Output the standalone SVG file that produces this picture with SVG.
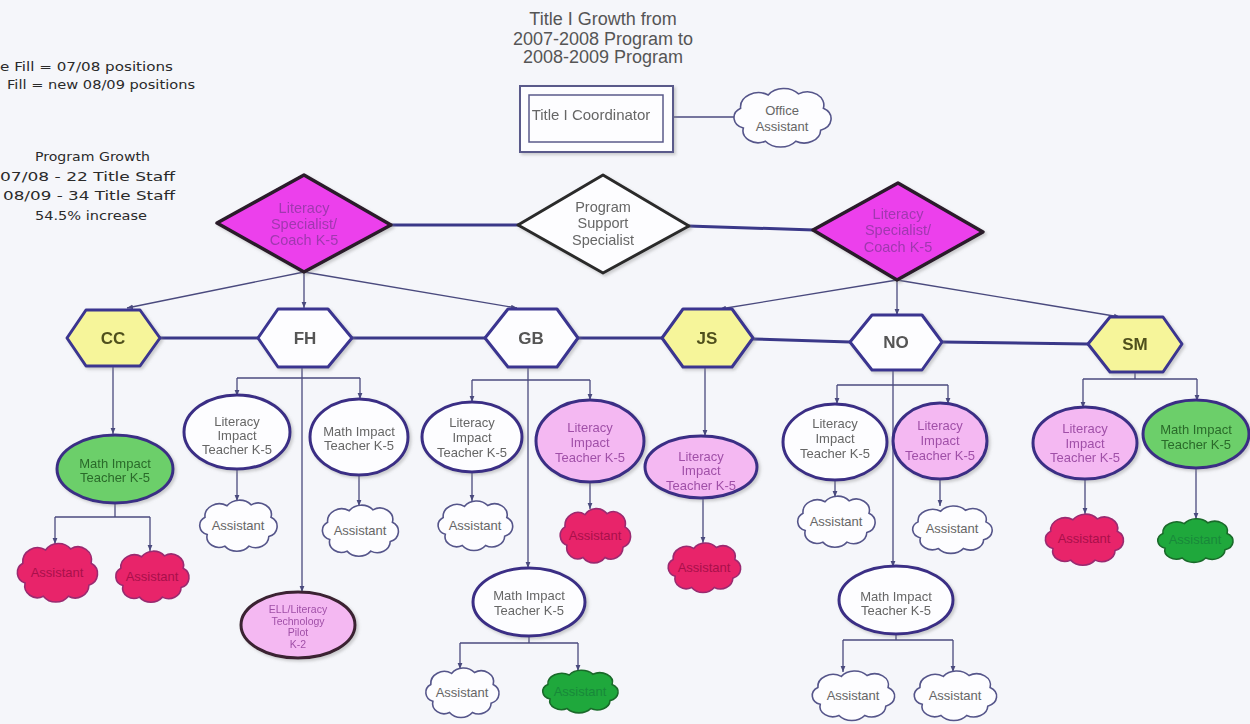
<svg xmlns="http://www.w3.org/2000/svg" xmlns:xlink="http://www.w3.org/1999/xlink" width="1250" height="724" viewBox="0 0 1250 724">
<style>
.t{font-family:"Liberation Sans",Arial,sans-serif;font-size:13px;text-anchor:middle;fill:#666}
.dt{font-size:14.5px}
.leg{font-family:"DejaVu Sans","Liberation Sans",sans-serif;font-size:12.5px;fill:#2a2a2a}
.legc{font-family:"DejaVu Sans","Liberation Sans",sans-serif;font-size:12.5px;fill:#2a2a2a;text-anchor:middle}
.title{font-family:"Liberation Sans",Arial,sans-serif;font-size:18px;text-anchor:middle;fill:#555}
.hex{stroke:#3a3490;stroke-width:3;stroke-linejoin:round}
.hy{fill:#f6f59a}
.hw{fill:#fdfdff}
.ht{font-family:"Liberation Sans",Arial,sans-serif;font-size:17px;font-weight:bold;text-anchor:middle}
.el{stroke:#3a2f85;stroke-width:3}
.ew{fill:#fdfdff}
.ep{fill:#f4b8f2}
.eg{fill:#6ccf6a}
.cw{fill:#fdfdff;stroke:#55558a}
.cr{fill:#e8246a;stroke:#9a2a70}
.cg{fill:#1fa83c;stroke:#1a6a2a}
.dm{fill:#ec40ec;stroke:#2a1a2a;stroke-width:3.5;stroke-linejoin:round}
.dw{fill:#fdfdff;stroke:#2a2a2a;stroke-width:3;stroke-linejoin:round}
.arr{fill:none;stroke:#4a4a7e;stroke-width:1.3;marker-end:url(#ah)}
.ln{fill:none;stroke:#4a4a7e;stroke-width:1.3}
.thick{fill:none;stroke:#3a3888;stroke-width:3}
.pk{fill:#a050a8}
.mg{fill:#a038b0}
.gr{fill:#2a6a2a}
.rd{fill:#a8104a}
.gd{fill:#18883a}
</style>
<defs>
<marker id="ah" viewBox="0 0 10 10" refX="10" refY="5" markerWidth="6" markerHeight="8" orient="auto" markerUnits="userSpaceOnUse">
<path d="M0,1 L10,5 L0,9 Z" fill="#4a4a7e"/>
</marker>
<path id="cloud" vector-effect="non-scaling-stroke" stroke-width="1.6" d="M -28,10 A 10,10 0 0 1 -30,-8 A 13,13 0 0 1 -10,-20 A 14,14 0 0 1 12,-21 A 12,12 0 0 1 30,-8 A 11,11 0 0 1 28,12 A 12,12 0 0 1 10,22 A 14,14 0 0 1 -12,22 A 11,11 0 0 1 -28,10 Z"/>
<filter id="sh" x="-10%" y="-10%" width="130%" height="130%">
<feDropShadow dx="2" dy="2" stdDeviation="1.5" flood-color="#888" flood-opacity="0.4"/>
</filter>
</defs>
<rect x="0" y="0" width="1250" height="724" fill="#f5f6fa"/>

<g id="legend">
<text class="leg" x="0" y="71" textLength="173" lengthAdjust="spacingAndGlyphs">e Fill = 07/08 positions</text>
<text class="leg" x="7" y="89" textLength="188" lengthAdjust="spacingAndGlyphs">Fill = new 08/09 positions</text>
<text class="leg" x="35" y="161" textLength="115" lengthAdjust="spacingAndGlyphs">Program Growth</text>
<text class="leg" x="0" y="181" textLength="175" lengthAdjust="spacingAndGlyphs">07/08 - 22 Title Staff</text>
<text class="leg" x="3" y="200" textLength="172" lengthAdjust="spacingAndGlyphs">08/09 - 34 Title Staff</text>
<text class="leg" x="35" y="220" textLength="112" lengthAdjust="spacingAndGlyphs">54.5% increase</text>
</g>

<g id="title">
<text class="title" x="603" y="25">Title I Growth from</text>
<text class="title" x="603" y="45">2007-2008 Program to</text>
<text class="title" x="603" y="63">2008-2009 Program</text>
</g>

<g id="connectors">
<line class="ln" x1="673" y1="117" x2="736" y2="117" stroke-width="1.6"/>
<line class="thick" x1="390" y1="225" x2="519" y2="225" stroke-width="4" stroke="#2a2a70"/>
<line class="thick" x1="688" y1="226" x2="814" y2="230" stroke-width="2.5" stroke="#2a2a70"/>
<line class="thick" x1="160" y1="338" x2="258" y2="338"/>
<line class="thick" x1="352" y1="338" x2="485" y2="338"/>
<line class="thick" x1="578" y1="338" x2="662" y2="338"/>
<line class="thick" x1="753" y1="339" x2="850" y2="342"/>
<line class="thick" x1="942" y1="342" x2="1088" y2="344"/>
<line class="arr" x1="304" y1="272" x2="127" y2="308"/>
<line class="arr" x1="304" y1="272" x2="304" y2="308"/>
<line class="arr" x1="304" y1="272" x2="517" y2="308"/>
<line class="arr" x1="897" y1="280" x2="720" y2="309"/>
<line class="arr" x1="897" y1="280" x2="897" y2="315"/>
<line class="arr" x1="897" y1="280" x2="1120" y2="317"/>
<line class="arr" x1="113" y1="366" x2="113" y2="434"/>
<polyline class="ln" points="115,503 115,517"/>
<polyline class="ln" points="55,517 150,517"/>
<line class="arr" x1="55" y1="517" x2="55" y2="544"/>
<line class="arr" x1="150" y1="517" x2="150" y2="551"/>
<line class="arr" x1="302" y1="367" x2="302" y2="592"/>
<polyline class="ln" points="237,378 360,378"/>
<line class="arr" x1="237" y1="378" x2="237" y2="396"/>
<line class="arr" x1="360" y1="378" x2="360" y2="399"/>
<line class="arr" x1="237" y1="469" x2="237" y2="501"/>
<line class="arr" x1="359" y1="475" x2="359" y2="506"/>
<line class="arr" x1="528" y1="367" x2="528" y2="568"/>
<polyline class="ln" points="472,380 590,380"/>
<line class="arr" x1="472" y1="380" x2="472" y2="402"/>
<line class="arr" x1="590" y1="380" x2="590" y2="400"/>
<line class="arr" x1="472" y1="472" x2="472" y2="501"/>
<line class="arr" x1="590" y1="482" x2="590" y2="509"/>
<polyline class="ln" points="529,636 529,643"/>
<polyline class="ln" points="460,643 578,643"/>
<line class="arr" x1="460" y1="643" x2="460" y2="669"/>
<line class="arr" x1="578" y1="643" x2="578" y2="671"/>
<line class="arr" x1="705" y1="367" x2="705" y2="436"/>
<line class="arr" x1="703" y1="498" x2="703" y2="543"/>
<line class="arr" x1="893" y1="370" x2="893" y2="567"/>
<polyline class="ln" points="837,385 948,385"/>
<line class="arr" x1="837" y1="385" x2="837" y2="404"/>
<line class="arr" x1="948" y1="385" x2="948" y2="404"/>
<line class="arr" x1="835" y1="480" x2="835" y2="497"/>
<line class="arr" x1="940" y1="479" x2="940" y2="506"/>
<polyline class="ln" points="896,634 896,640"/>
<polyline class="ln" points="843,640 953,640"/>
<line class="arr" x1="843" y1="640" x2="843" y2="672"/>
<line class="arr" x1="953" y1="640" x2="953" y2="672"/>
<polyline class="ln" points="1135,372 1135,379"/>
<polyline class="ln" points="1083,379 1197,379"/>
<line class="arr" x1="1083" y1="379" x2="1083" y2="408"/>
<line class="arr" x1="1197" y1="379" x2="1197" y2="401"/>
<line class="arr" x1="1085" y1="479" x2="1085" y2="514"/>
<line class="arr" x1="1196" y1="468" x2="1196" y2="519"/>
</g>

<g id="coordinator" filter="url(#sh)">
<rect x="520" y="86" width="153" height="66" fill="#fdfdff" stroke="#5a5a8a" stroke-width="2"/>
<rect x="529" y="95" width="134" height="47" fill="none" stroke="#5a5a8a" stroke-width="1.5"/>
<text class="t" x="591" y="120" style="font-size:15px">Title I Coordinator</text>
</g>
<g id="office-assistant">
<use href="#cloud" class="cw" transform="translate(782,117) scale(1.38,1.1)"/>
<text class="t" x="782" y="115">Office</text>
<text class="t" x="782" y="131">Assistant</text>
</g>

<g id="lit-coach-left" filter="url(#sh)">
<polygon class="dm" points="304,175 391,225 304,272 217,223"/>
<text class="t dt mg" x="304" y="213">Literacy</text>
<text class="t dt mg" x="304" y="229">Specialist/</text>
<text class="t dt mg" x="304" y="245">Coach K-5</text>
</g>
<g id="program-support" filter="url(#sh)">
<polygon class="dw" points="603,175 689,226 603,273 518,225"/>
<text class="t dt" x="603" y="212">Program</text>
<text class="t dt" x="603" y="228">Support</text>
<text class="t dt" x="603" y="245">Specialist</text>
</g>
<g id="lit-coach-right" filter="url(#sh)">
<polygon class="dm" points="898,183 983,232 897,280 813,230"/>
<text class="t dt mg" x="898" y="219">Literacy</text>
<text class="t dt mg" x="898" y="235">Specialist/</text>
<text class="t dt mg" x="898" y="252">Coach K-5</text>
</g>

<g id="hex-cc" filter="url(#sh)">
<polygon class="hex hy" points="67,338 86,310 140,310 160,338 140,366 86,366"/>
<text class="ht" x="113" y="344" fill="#50501e">CC</text>
</g>
<g id="hex-fh" filter="url(#sh)">
<polygon class="hex hw" points="258,338 278,309 328,309 352,338 328,367 278,367"/>
<text class="ht" x="305" y="344" fill="#555">FH</text>
</g>
<g id="hex-gb" filter="url(#sh)">
<polygon class="hex hw" points="485,338 508,309 557,309 578,338 557,367 508,367"/>
<text class="ht" x="531" y="344" fill="#555">GB</text>
</g>
<g id="hex-js" filter="url(#sh)">
<polygon class="hex hy" points="662,338 683,309 732,309 753,338 732,367 683,367"/>
<text class="ht" x="707" y="344" fill="#50501e">JS</text>
</g>
<g id="hex-no" filter="url(#sh)">
<polygon class="hex hw" points="850,342 872,315 922,315 942,342 922,370 872,370"/>
<text class="ht" x="896" y="348" fill="#555">NO</text>
</g>
<g id="hex-sm" filter="url(#sh)">
<polygon class="hex hy" points="1088,344 1110,317 1163,317 1182,344 1163,372 1110,372"/>
<text class="ht" x="1135" y="350" fill="#50501e">SM</text>
</g>

<g id="cc-math" filter="url(#sh)">
<ellipse class="el eg" cx="115" cy="469" rx="58" ry="34"/>
<text class="t gr" x="115" y="468">Math Impact</text>
<text class="t gr" x="115" y="482">Teacher K-5</text>
</g>
<g id="cc-asst-1">
<use href="#cloud" class="cr" transform="translate(57,572) scale(1.14,1.1)"/>
<text class="t rd" x="57" y="577">Assistant</text>
</g>
<g id="cc-asst-2">
<use href="#cloud" class="cr" transform="translate(152,576) scale(1.04,0.96)"/>
<text class="t rd" x="152" y="581">Assistant</text>
</g>

<g id="fh-lit" filter="url(#sh)">
<ellipse class="el ew" cx="237" cy="432" rx="53" ry="37"/>
<text class="t" x="237" y="426">Literacy</text>
<text class="t" x="237" y="440">Impact</text>
<text class="t" x="237" y="454">Teacher K-5</text>
</g>
<g id="fh-math" filter="url(#sh)">
<ellipse class="el ew" cx="359" cy="437" rx="49" ry="38"/>
<text class="t" x="359" y="436">Math Impact</text>
<text class="t" x="359" y="450">Teacher K-5</text>
</g>
<g id="fh-asst-1">
<use href="#cloud" class="cw" transform="translate(238,525) scale(1.1,0.96)"/>
<text class="t" x="238" y="530">Assistant</text>
</g>
<g id="fh-asst-2">
<use href="#cloud" class="cw" transform="translate(360,530) scale(1.08,0.96)"/>
<text class="t" x="360" y="535">Assistant</text>
</g>
<g id="fh-ell" filter="url(#sh)">
<ellipse cx="298" cy="625" rx="57" ry="33" fill="#f4b8f2" stroke="#3a2030" stroke-width="3"/>
<text class="t pk" x="298" y="613" style="font-size:10.5px">ELL/Literacy</text>
<text class="t pk" x="298" y="625" style="font-size:10.5px">Technology</text>
<text class="t pk" x="298" y="636" style="font-size:10.5px">Pilot</text>
<text class="t pk" x="298" y="648" style="font-size:10.5px">K-2</text>
</g>

<g id="gb-lit" filter="url(#sh)">
<ellipse class="el ew" cx="472" cy="437" rx="50" ry="35"/>
<text class="t" x="472" y="427">Literacy</text>
<text class="t" x="472" y="442">Impact</text>
<text class="t" x="472" y="457">Teacher K-5</text>
</g>
<g id="gb-lit-new" filter="url(#sh)">
<ellipse class="el ep" cx="590" cy="441" rx="54" ry="41"/>
<text class="t pk" x="590" y="432">Literacy</text>
<text class="t pk" x="590" y="447">Impact</text>
<text class="t pk" x="590" y="462">Teacher K-5</text>
</g>
<g id="gb-asst-1">
<use href="#cloud" class="cw" transform="translate(475,525) scale(1.06,0.93)"/>
<text class="t" x="475" y="530">Assistant</text>
</g>
<g id="gb-asst-2">
<use href="#cloud" class="cr" transform="translate(595,535) scale(1.0,1.02)"/>
<text class="t rd" x="595" y="540">Assistant</text>
</g>
<g id="gb-math" filter="url(#sh)">
<ellipse class="el ew" cx="529" cy="602" rx="56" ry="34"/>
<text class="t" x="529" y="600">Math Impact</text>
<text class="t" x="529" y="615">Teacher K-5</text>
</g>
<g id="gb-asst-3">
<use href="#cloud" class="cw" transform="translate(462,692) scale(1.04,0.93)"/>
<text class="t" x="462" y="697">Assistant</text>
</g>
<g id="gb-asst-4">
<use href="#cloud" class="cg" transform="translate(580,691) scale(1.07,0.8)"/>
<text class="t gd" x="580" y="696">Assistant</text>
</g>

<g id="js-lit" filter="url(#sh)">
<ellipse class="el ep" cx="701" cy="467" rx="56" ry="31"/>
<text class="t pk" x="701" y="461">Literacy</text>
<text class="t pk" x="701" y="475">Impact</text>
<text class="t pk" x="701" y="490">Teacher K-5</text>
</g>
<g id="js-asst">
<use href="#cloud" class="cr" transform="translate(704,567) scale(1.03,0.93)"/>
<text class="t rd" x="704" y="572">Assistant</text>
</g>

<g id="no-lit" filter="url(#sh)">
<ellipse class="el ew" cx="835" cy="442" rx="52" ry="38"/>
<text class="t" x="835" y="428">Literacy</text>
<text class="t" x="835" y="443">Impact</text>
<text class="t" x="835" y="458">Teacher K-5</text>
</g>
<g id="no-lit-new" filter="url(#sh)">
<ellipse class="el ep" cx="940" cy="441" rx="47" ry="38"/>
<text class="t pk" x="940" y="430">Literacy</text>
<text class="t pk" x="940" y="445">Impact</text>
<text class="t pk" x="940" y="460">Teacher K-5</text>
</g>
<g id="no-asst-1">
<use href="#cloud" class="cw" transform="translate(836,521) scale(1.1,0.96)"/>
<text class="t" x="836" y="526">Assistant</text>
</g>
<g id="no-asst-2">
<use href="#cloud" class="cw" transform="translate(952,529) scale(1.13,0.89)"/>
<text class="t" x="952" y="533">Assistant</text>
</g>
<g id="no-math" filter="url(#sh)">
<ellipse class="el ew" cx="896" cy="600" rx="57" ry="34"/>
<text class="t" x="896" y="601">Math Impact</text>
<text class="t" x="896" y="615">Teacher K-5</text>
</g>
<g id="no-asst-3">
<use href="#cloud" class="cw" transform="translate(853,695) scale(1.17,0.93)"/>
<text class="t" x="853" y="700">Assistant</text>
</g>
<g id="no-asst-4">
<use href="#cloud" class="cw" transform="translate(955,695) scale(1.17,0.93)"/>
<text class="t" x="955" y="700">Assistant</text>
</g>

<g id="sm-lit" filter="url(#sh)">
<ellipse class="el ep" cx="1085" cy="443" rx="52" ry="36"/>
<text class="t pk" x="1085" y="433">Literacy</text>
<text class="t pk" x="1085" y="448">Impact</text>
<text class="t pk" x="1085" y="462">Teacher K-5</text>
</g>
<g id="sm-math" filter="url(#sh)">
<ellipse class="el eg" cx="1196" cy="434" rx="53" ry="34"/>
<text class="t gr" x="1196" y="434">Math Impact</text>
<text class="t gr" x="1196" y="449">Teacher K-5</text>
</g>
<g id="sm-asst-1">
<use href="#cloud" class="cr" transform="translate(1084,539) scale(1.11,0.96)"/>
<text class="t rd" x="1084" y="543">Assistant</text>
</g>
<g id="sm-asst-2">
<use href="#cloud" class="cg" transform="translate(1195,540) scale(1.07,0.82)"/>
<text class="t gd" x="1195" y="544">Assistant</text>
</g>
</svg>
